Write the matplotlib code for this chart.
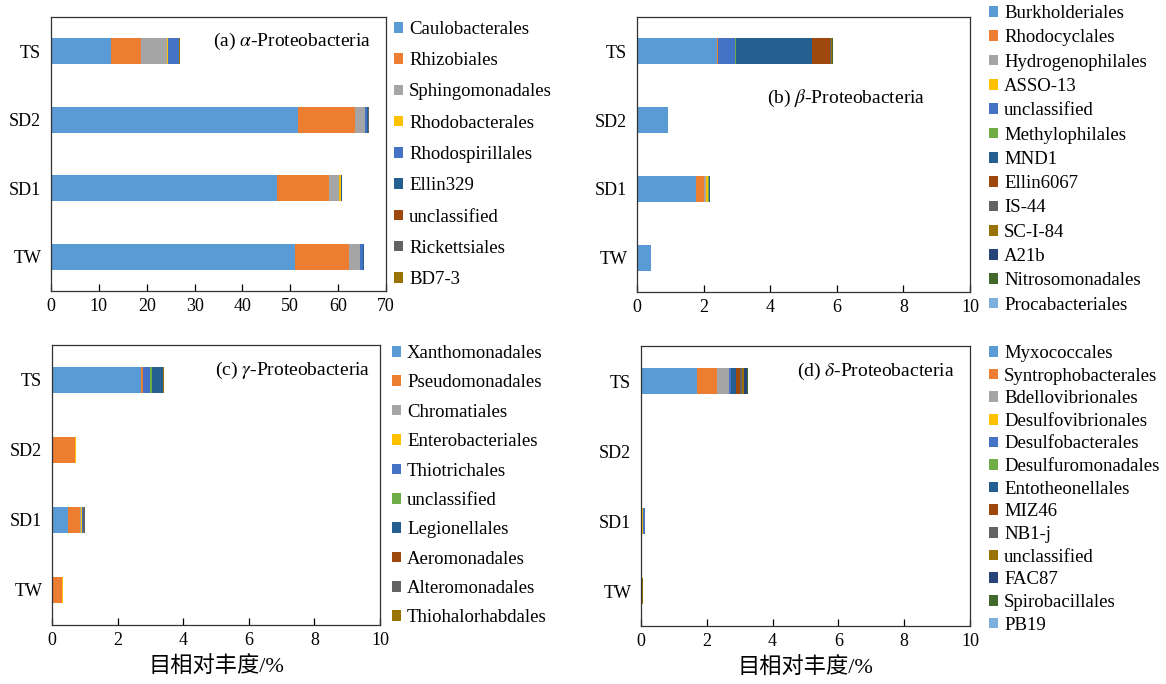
import numpy as np
import matplotlib
matplotlib.use("Agg")
import matplotlib.pyplot as plt

plt.rcParams['font.family'] = ['Liberation Serif', 'Noto Sans CJK SC']
plt.rcParams['mathtext.fontset'] = 'stix'

samples = ["TS", "SD2", "SD1", "TW"]

# (a) alpha-Proteobacteria, values in order TS, SD2, SD1, TW
alpha_orders = ["Caulobacterales", "Rhizobiales", "Sphingomonadales", "Rhodobacterales",
                "Rhodospirillales", "Ellin329", "unclassified", "Rickettsiales", "BD7-3"]
alpha_vals = [
    [12.5, 51.7, 47.2, 51.0],
    [6.25, 11.8, 10.8, 11.2],
    [5.55, 2.1, 2.1, 2.4],
    [0.1, 0.1, 0.4, 0.05],
    [2.3, 0.4, 0.2, 0.6],
    [0.05, 0.1, 0.05, 0.05],
    [0.05, 0.1, 0.05, 0.05],
    [0.05, 0.2, 0.05, 0.05],
    [0.15, 0.05, 0.05, 0.05],
]

# (b) beta-Proteobacteria
beta_orders = ["Burkholderiales", "Rhodocyclales", "Hydrogenophilales", "ASSO-13",
               "unclassified", "Methylophilales", "MND1", "Ellin6067", "IS-44",
               "SC-I-84", "A21b", "Nitrosomonadales", "Procabacteriales"]
beta_vals = [
    [2.4, 0.92, 1.78, 0.43],
    [0.03, 0.0, 0.22, 0.0],
    [0.0, 0.0, 0.08, 0.0],
    [0.0, 0.0, 0.04, 0.0],
    [0.5, 0.0, 0.02, 0.0],
    [0.03, 0.0, 0.03, 0.0],
    [2.3, 0.0, 0.01, 0.0],
    [0.55, 0.0, 0.0, 0.0],
    [0.02, 0.0, 0.0, 0.0],
    [0.02, 0.0, 0.0, 0.0],
    [0.0, 0.0, 0.0, 0.0],
    [0.04, 0.0, 0.0, 0.0],
    [0.0, 0.0, 0.0, 0.0],
]

# (c) gamma-Proteobacteria
gamma_orders = ["Xanthomonadales", "Pseudomonadales", "Chromatiales", "Enterobacteriales",
                "Thiotrichales", "unclassified", "Legionellales", "Aeromonadales",
                "Alteromonadales", "Thiohalorhabdales"]
gamma_vals = [
    [2.71, 0.02, 0.49, 0.0],
    [0.06, 0.67, 0.35, 0.30],
    [0.0, 0.0, 0.04, 0.0],
    [0.0, 0.05, 0.02, 0.05],
    [0.23, 0.0, 0.04, 0.0],
    [0.06, 0.0, 0.0, 0.0],
    [0.32, 0.0, 0.0, 0.0],
    [0.0, 0.0, 0.02, 0.0],
    [0.0, 0.0, 0.06, 0.0],
    [0.02, 0.0, 0.0, 0.0],
]

# (d) delta-Proteobacteria
delta_orders = ["Myxococcales", "Syntrophobacterales", "Bdellovibrionales", "Desulfovibrionales",
                "Desulfobacterales", "Desulfuromonadales", "Entotheonellales", "MIZ46", "NB1-j",
                "unclassified", "FAC87", "Spirobacillales", "PB19"]
delta_vals = [
    [1.69, 0.0, 0.02, 0.0],
    [0.63, 0.0, 0.0, 0.0],
    [0.34, 0.0, 0.0, 0.0],
    [0.02, 0.0, 0.05, 0.0],
    [0.05, 0.0, 0.06, 0.0],
    [0.02, 0.0, 0.0, 0.0],
    [0.15, 0.0, 0.0, 0.0],
    [0.12, 0.0, 0.0, 0.0],
    [0.06, 0.0, 0.0, 0.03],
    [0.06, 0.0, 0.0, 0.04],
    [0.08, 0.0, 0.0, 0.0],
    [0.02, 0.0, 0.0, 0.0],
    [0.0, 0.0, 0.0, 0.0],
]

pal = ["#5B9BD5", "#ED7D31", "#A5A5A5", "#FFC000", "#4472C4", "#70AD47", "#255E91",
       "#9E480E", "#636363", "#997300", "#264478", "#43682B", "#7CAFDD"]
alpha_cols = [pal[i] for i in [0, 1, 2, 3, 4, 6, 7, 8, 9]]

W, H = 1166, 684
fig = plt.figure(figsize=(W / 100, H / 100), dpi=100)


def px_axes(l, t, r, b):
    return fig.add_axes([l / W, 1 - b / H, (r - l) / W, (b - t) / H])


def panel(ax, orders, vals, cols, xmax, step, title, tx, ty, ha, leg_x, leg_top, lspace):
    y = np.arange(len(samples))
    left = np.zeros(len(samples))
    for name, v, c in zip(orders, vals, cols):
        ax.barh(y, v, left=left, height=0.38, color=c, label=name)
        left += np.array(v)
    ax.set_ylim(3.5, -0.5)
    ax.set_yticks(y)
    ax.set_yticklabels(samples)
    ax.set_xlim(0, xmax)
    ax.set_xticks(np.arange(0, xmax + step / 2, step))
    ax.tick_params(axis='x', direction='in', length=5, width=0.9, labelsize=13, pad=5)
    ax.tick_params(axis='y', length=0, labelsize=13, pad=7)
    for s in ax.spines.values():
        s.set_color("#333333")
        s.set_linewidth(0.9)
    ax.text(tx, ty, title, transform=ax.transAxes, ha=ha, va='center', fontsize=14)
    ax.legend(loc='upper left', bbox_to_anchor=(leg_x / W, 1 - leg_top / H),
              bbox_transform=fig.transFigure, frameon=False, fontsize=13.5,
              handlelength=0.5, handleheight=0.5, handletextpad=0.3,
              borderpad=0, borderaxespad=0, labelspacing=lspace)


ax_a = px_axes(51, 17, 386, 291)
panel(ax_a, alpha_orders, alpha_vals, alpha_cols, 70, 10,
      r"(a) $\alpha$-Proteobacteria", 0.955, 0.91, 'right', 394, 21, 0.76)

ax_b = px_axes(637, 17, 970, 292)
panel(ax_b, beta_orders, beta_vals, pal, 10, 2,
      r"(b) $\beta$-Proteobacteria", 0.867, 0.705, 'right', 989, 5, 0.39)

ax_c = px_axes(52, 345, 380, 625)
panel(ax_c, gamma_orders, gamma_vals, pal[:10], 10, 2,
      r"(c) $\gamma$-Proteobacteria", 0.97, 0.91, 'right', 392, 345, 0.66)
ax_c.set_xlabel("目相对丰度/%", fontsize=16, labelpad=6)

ax_d = px_axes(641, 346, 970, 626)
panel(ax_d, delta_orders, delta_vals, pal, 10, 2,
      r"(d) $\delta$-Proteobacteria", 0.952, 0.91, 'right', 989, 345, 0.30)
ax_d.set_xlabel("目相对丰度/%", fontsize=16, labelpad=6)

fig.savefig("out.png", dpi=100)
